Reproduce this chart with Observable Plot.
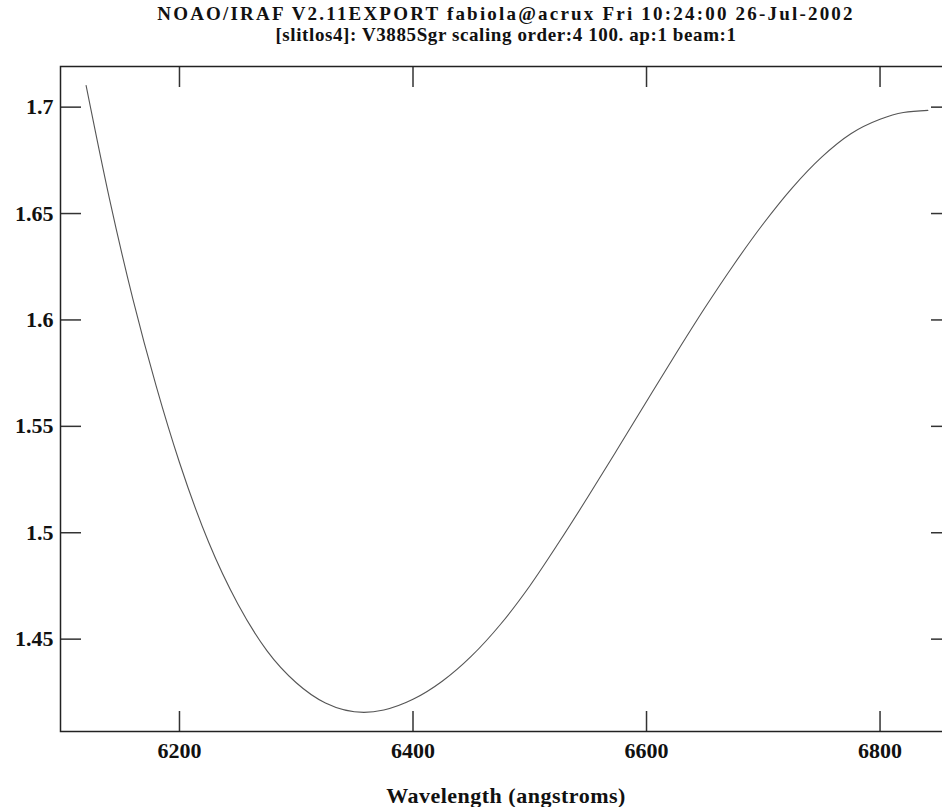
<!DOCTYPE html>
<html>
<head>
<meta charset="utf-8">
<script src="https://cdn.jsdelivr.net/npm/d3@7"></script>
<script src="https://cdn.jsdelivr.net/npm/@observablehq/plot@0.6"></script>
<style>
  html, body { margin: 0; padding: 0; background: #fff; }
  #wrap { width: 942px; height: 807px; overflow: hidden; }
  #wrap svg { max-width: none !important; }
</style>
</head>
<body>
<div id="wrap"></div>
<script>
const titleLines = [
  "NOAO/IRAF V2.11EXPORT fabiola@acrux Fri 10:24:00 26-Jul-2002",
  "[slitlos4]: V3885Sgr scaling order:4 100. ap:1 beam:1"
];
const xLabel = "Wavelength (angstroms)";
const xTicks = [6200, 6400, 6600, 6800];
const yTicks = [1.45, 1.5, 1.55, 1.6, 1.65, 1.7];
const yTickLabels = ["1.45", "1.5", "1.55", "1.6", "1.65", "1.7"];
const wavelength = [6120, 6140, 6160, 6180, 6200, 6225, 6250, 6275, 6300, 6325, 6358, 6375, 6400, 6425, 6450, 6475, 6500, 6525, 6550, 6575, 6600, 6625, 6650, 6675, 6700, 6725, 6750, 6775, 6800, 6820, 6841];
const scaling    = [1.7102, 1.6570, 1.6100, 1.5690, 1.5330, 1.4955, 1.4665, 1.4445, 1.4295, 1.4200, 1.4156, 1.4167, 1.4217, 1.4302, 1.4420, 1.4570, 1.4750, 1.4955, 1.5170, 1.5392, 1.5617, 1.5840, 1.6057, 1.6262, 1.6452, 1.6622, 1.6765, 1.6875, 1.6943, 1.6975, 1.6985];

const data = wavelength.map((w, i) => ({w, v: scaling[i]}));
const font = "'Liberation Serif', 'DejaVu Serif', serif";

const chart = Plot.plot({
  width: 952,
  height: 807,
  marginLeft: 60,
  marginRight: 1,
  marginTop: 66,
  marginBottom: 76,
  style: {fontFamily: font, fontWeight: "bold", fontSize: "22px", color: "#111", background: "#fff", overflow: "visible"},
  x: {domain: [6098.1, 6861.2]},
  y: {domain: [1.4066, 1.7191]},
  marks: [
    Plot.axisX({anchor: "bottom", ticks: xTicks, tickSize: -20, tickPadding: 31, tickFormat: d => String(d), label: null, stroke: "#333", strokeWidth: 1.5}),
    Plot.axisX({anchor: "top", ticks: xTicks, tickSize: -20, tickFormat: () => "", label: null, stroke: "#333", strokeWidth: 1.5}),
    Plot.axisY({anchor: "left", ticks: yTicks, tickSize: -21, tickPadding: 28, tickFormat: d => yTickLabels[yTicks.indexOf(d)], label: null, stroke: "#333", strokeWidth: 1.5}),
    Plot.axisY({anchor: "right", ticks: yTicks, tickSize: -21, tickFormat: () => "", label: null, stroke: "#333", strokeWidth: 1.5}),
    Plot.frame({stroke: "#222", strokeWidth: 1.5}),
    Plot.line(data, {x: "w", y: "v", curve: "monotone-x", stroke: "#555", strokeWidth: 1.1}),
    Plot.text([titleLines[0]], {text: d => d, frameAnchor: "top", lineAnchor: "bottom", dy: -47, fontSize: 19, fill: "#111", className: "t1"}),
    Plot.text([titleLines[1]], {text: d => d, frameAnchor: "top", lineAnchor: "bottom", dy: -26, fontSize: 19, fill: "#111", className: "t2"}),
    Plot.text([xLabel], {text: d => d, frameAnchor: "bottom", lineAnchor: "bottom", dy: 71, fontSize: 22, fill: "#111", className: "xl"})
  ]
});
d3.select(chart).selectAll(".t1 text").style("letter-spacing", "2.2px");
d3.select(chart).selectAll(".t2 text").style("letter-spacing", "0.6px");
d3.select(chart).selectAll(".xl text").style("letter-spacing", "0.5px");
document.getElementById("wrap").appendChild(chart);
</script>
</body>
</html>
